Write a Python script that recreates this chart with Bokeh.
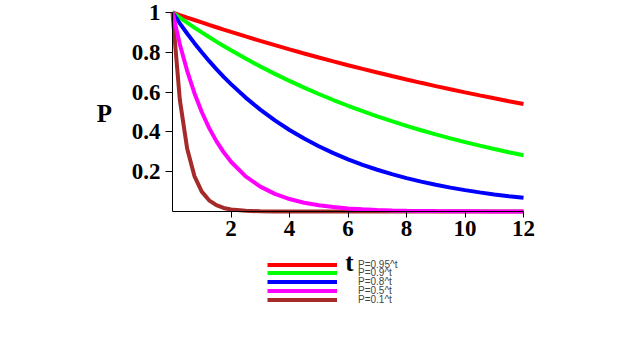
from bokeh.plotting import figure
from bokeh.models import Range1d, FixedTicker, Legend, LegendItem, Label
from bokeh.embed import file_html
from bokeh.resources import INLINE

# t values sampled along the curves
t = [0, 0.25, 0.5, 0.75, 1, 1.25, 1.5, 1.75, 2, 2.5, 3, 3.5, 4, 4.5, 5, 5.5, 6,
     6.5, 7, 7.5, 8, 8.5, 9, 9.5, 10, 10.5, 11, 11.5, 12]

p095 = [1, 0.9873, 0.9747, 0.9623, 0.95, 0.9379, 0.9260, 0.9142, 0.9025, 0.8798,
        0.8574, 0.8358, 0.8145, 0.7940, 0.7738, 0.7542, 0.7351, 0.7165, 0.6983,
        0.6807, 0.6634, 0.6466, 0.6302, 0.6143, 0.5987, 0.5836, 0.5688, 0.5544, 0.5404]
p09 = [1, 0.9740, 0.9487, 0.9240, 0.9, 0.8766, 0.8538, 0.8316, 0.81, 0.7684,
       0.729, 0.6916, 0.6561, 0.6225, 0.5905, 0.5602, 0.5314, 0.5042, 0.4783,
       0.4537, 0.4305, 0.4084, 0.3874, 0.3675, 0.3487, 0.3308, 0.3138, 0.2977, 0.2824]
p08 = [1, 0.9457, 0.8944, 0.8459, 0.8, 0.7566, 0.7155, 0.6767, 0.64, 0.5724,
       0.512, 0.4579, 0.4096, 0.3664, 0.3277, 0.2931, 0.2621, 0.2345, 0.2097,
       0.1876, 0.1678, 0.1501, 0.1342, 0.1201, 0.1074, 0.0961, 0.0859, 0.0769, 0.0687]
p05 = [1, 0.8409, 0.7071, 0.5946, 0.5, 0.4204, 0.3536, 0.2973, 0.25, 0.1768,
       0.125, 0.0884, 0.0625, 0.0442, 0.0313, 0.0221, 0.0156, 0.0110, 0.0078,
       0.0055, 0.0039, 0.0028, 0.0020, 0.0014, 0.0010, 0.0007, 0.0005, 0.0003, 0.0002]
p01 = [1, 0.5623, 0.3162, 0.1778, 0.1, 0.0562, 0.0316, 0.0178, 0.01, 0.0032,
       0.001, 0.0003, 0.0001, 0, 0, 0, 0, 0, 0, 0, 0, 0, 0, 0, 0, 0, 0, 0, 0]

series = [p095, p09, p08, p05, p01]
labels = ["P=0.95^t", "P=0.9^t", "P=0.8^t", "P=0.5^t", "P=0.1^t"]
colors = ["#FF0000", "#00FF00", "#0000FF", "#FF00FF", "#A52A2A"]
draw_order = [0, 1, 2, 4, 3]

x_ticks = [2, 4, 6, 8, 10, 12]
y_ticks = [0.2, 0.4, 0.6, 0.8, 1]
y_tick_labels = ["0.2", "0.4", "0.6", "0.8", "1"]
x_label = "t"
y_label = "P"

# layout (pixels): axes drawn inside one large frame so the legend below is not clipped
W, H = 635, 357
FL, FB = 60, 40                  # left / bottom borders around the frame
AX_X0, AX_X1 = 172, 523          # pixel span of t = 0..12
AX_Y1, AX_Y0 = 12, 211           # pixel span of P = 1..0
sx = (AX_X1 - AX_X0) / 12.0
sy = (AX_Y0 - AX_Y1) / 1.0
x_start = -(AX_X0 - FL) / sx
x_end = 12 + (W - AX_X1) / sx
y_start = -((H - FB) - AX_Y0) / sy
y_end = 1 + AX_Y1 / sy

LEG_X, LEG_ROW0, LEG_STEP, LEG_HALF = 267, 264, 8.75, 5.5

serif = "Liberation Serif"

p = figure(width=W, height=H, output_backend="svg", toolbar_location=None, title=None,
           x_range=Range1d(x_start, x_end), y_range=Range1d(y_start, y_end),
           min_border_left=FL, min_border_right=0, min_border_top=0,
           min_border_bottom=FB)
p.outline_line_color = None
p.xgrid.visible = False
p.ygrid.visible = False
p.background_fill_color = "white"
p.border_fill_color = "white"

rend = {}
for i in draw_order:
    rend[i] = p.line(t, series[i], line_color=colors[i], line_width=4)

for ax in (p.xaxis[0], p.yaxis[0]):
    ax.major_label_text_font = serif
    ax.major_label_text_font_style = "bold"
    ax.major_label_text_font_size = "23px"
    ax.major_label_text_color = "black"
    ax.axis_line_color = "black"
    ax.major_tick_line_color = "black"
    ax.minor_tick_line_color = None
    ax.fixed_location = 0

xa = p.xaxis[0]
xa.ticker = FixedTicker(ticks=x_ticks)
xa.bounds = (0, 12)
xa.major_tick_out = 6
xa.major_tick_in = 0
xa.major_label_standoff = 3

ya = p.yaxis[0]
ya.ticker = FixedTicker(ticks=y_ticks)
ya.bounds = (0, 1)
ya.major_label_overrides = {v: s for v, s in zip(y_ticks, y_tick_labels)}
ya.major_tick_out = 7
ya.major_tick_in = 0
ya.major_label_standoff = 5

# axis titles
p.add_layout(Label(x=(104 - AX_X0) / sx, y=(AX_Y0 - 112.5) / sy, text=y_label,
                   text_font=serif, text_font_style="bold", text_font_size="25px",
                   text_align="center", text_baseline="middle", text_color="black"))
p.add_layout(Label(x=(349 - AX_X0) / sx, y=(AX_Y0 - 262) / sy, text=x_label,
                   text_font=serif, text_font_style="bold", text_font_size="25px",
                   text_align="center", text_baseline="alphabetic", text_color="black"))

# one single-entry legend per row so the rows can sit closer than the text height
for k, (l, i) in enumerate(zip(labels, range(len(labels)))):
    row_c = LEG_ROW0 + k * LEG_STEP
    lg = Legend(items=[LegendItem(label=l, renderers=[rend[i]])],
                location=(LEG_X - FL, (H - FB) - row_c - LEG_HALF), orientation="vertical",
                glyph_width=70, glyph_height=9, label_height=9, spacing=0,
                label_standoff=21, padding=0, margin=0,
                label_text_font="Liberation Sans", label_text_font_size="10px",
                border_line_color=None, background_fill_alpha=0)
    p.add_layout(lg, "center")

open("out.html", "w").write(file_html(p, INLINE))
